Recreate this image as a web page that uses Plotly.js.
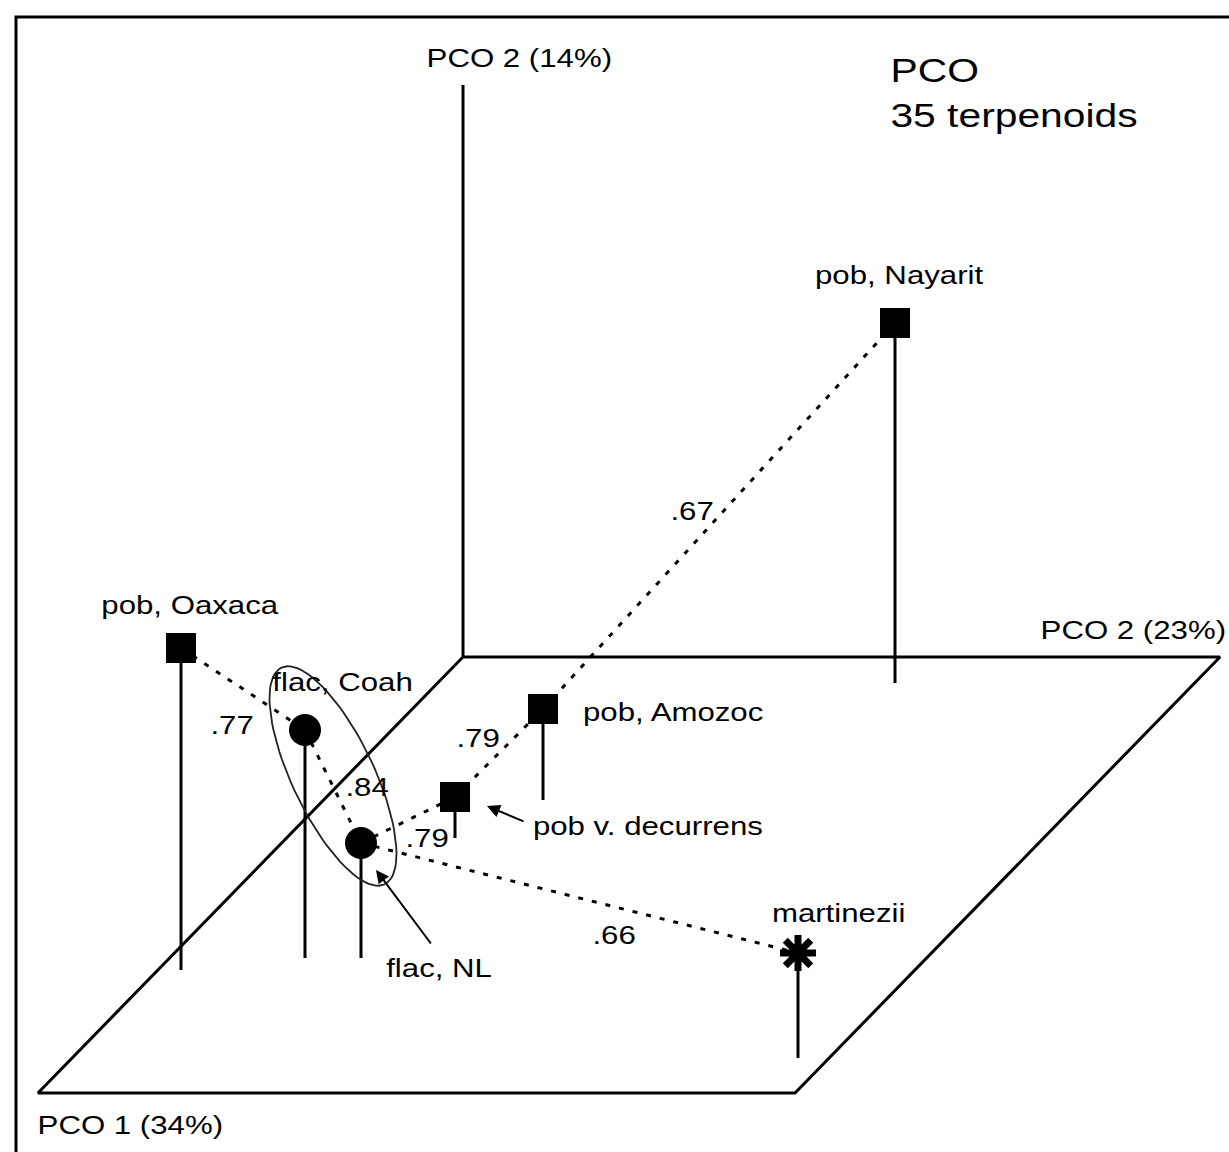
<!DOCTYPE html>
<html><head><meta charset="utf-8">
<script src="https://cdn.plot.ly/plotly-3.0.1.min.js"></script>
<style>
html,body{margin:0;padding:0;background:#fff}#chart{width:1229px;height:1152px}
#chart text.annotation-text{transform-box:fill-box;transform-origin:center;transform:scaleX(1.2)}
</style>
</head><body><div id="chart"></div>
<script>
// Samples (projected positions on the diagram)
const names   = ["pob, Nayarit","pob, Oaxaca","flac, Coah","flac, NL","pob, Amozoc","pob v. decurrens","martinezii"];
const ptX     = [895, 181, 305, 361, 543, 455, 798];
const ptY     = [323, 648, 730, 843, 709, 797, 953];
const stemEnd = [683, 970, 958, 958, 800, 838, 1058];
const symbols = ["square","square","circle","circle","square","square","asterisk-open"];
// Sample label positions (centres)
const labX    = [899, 190, 342, 439, 673, 648, 838];
const labY    = [275, 605, 682, 968, 712, 826, 913];
// Similarity links
const linkFrom  = [1, 2, 3, 5, 4, 3];
const linkTo    = [2, 3, 5, 4, 0, 6];
const linkLabel = [".77", ".84", ".79", ".79", ".67", ".66"];
const linkLabX  = [232, 367, 427, 478, 692, 614];
const linkLabY  = [725, 787, 838, 738, 511, 935];
// Axis titles
const axisTitles = ["PCO 2 (14%)", "PCO 2 (23%)", "PCO 1 (34%)"];
const axisTitX   = [519, 1133, 130];
const axisTitY   = [58, 630, 1125];

const FONT = "Liberation Sans, Arial, sans-serif";
const traces = [];
// floor parallelogram + vertical axis
traces.push({x:[463,1220,795,38,463,463], y:[657,657,1093,1093,657,85], mode:"lines",
  line:{color:"#000",width:3}, hoverinfo:"skip", showlegend:false});
// stems
names.forEach((n,i)=>traces.push({x:[ptX[i],ptX[i]], y:[ptY[i],stemEnd[i]], mode:"lines",
  line:{color:"#000",width:3}, hoverinfo:"skip", showlegend:false}));
// links
linkFrom.forEach((f,k)=>traces.push({x:[ptX[f],ptX[linkTo[k]]], y:[ptY[f],ptY[linkTo[k]]], mode:"lines",
  line:{color:"#000",width:3,dash:"5px,9px"}, hoverinfo:"skip", showlegend:false}));
// ellipse around flac
const ex=[],ey=[]; const cx=333,cy=776,a=120,b=41,th=Math.atan2(210,100);
for(let t=0;t<=360;t+=4){const r=t*Math.PI/180;ex.push(cx+a*Math.cos(r)*Math.cos(th)-b*Math.sin(r)*Math.sin(th));ey.push(cy+a*Math.cos(r)*Math.sin(th)+b*Math.sin(r)*Math.cos(th));}
traces.push({x:ex,y:ey,mode:"lines",line:{color:"#222",width:1.8},hoverinfo:"skip",showlegend:false});
// markers
traces.push({x:ptX, y:ptY, mode:"markers", text:names,
  marker:{symbol:symbols, opacity:1, size:symbols.map(s=>s==="asterisk-open"?30:s==="circle"?32:30), color:"#000",
  line:{color:"#000",width:symbols.map(s=>s==="asterisk-open"?7:0)}}, showlegend:false, hoverinfo:"text"});

const ann = [];
const t = (x,y,text,size)=>ann.push({x,y,text,xref:"x",yref:"y",showarrow:false,xanchor:"center",yanchor:"middle",font:{family:FONT,size:size||26,color:"#000"}});
axisTitles.forEach((s,i)=>t(axisTitX[i],axisTitY[i],s));
t(935,70,"PCO",34);
t(1014,115,"35 terpenoids",34);
names.forEach((n,i)=>t(labX[i],labY[i],n));
linkLabel.forEach((l,k)=>t(linkLabX[k],linkLabY[k],l));
// arrows
ann.push({x:487,y:806,ax:525,ay:822,axref:"x",ayref:"y",xref:"x",yref:"y",showarrow:true,arrowhead:2,arrowsize:1.3,arrowwidth:2,arrowcolor:"#000",text:""});
ann.push({x:376,y:870,ax:432,ay:945,axref:"x",ayref:"y",xref:"x",yref:"y",showarrow:true,arrowhead:2,arrowsize:1.3,arrowwidth:2,arrowcolor:"#000",text:""});

const layout = {width:1229,height:1152,margin:{l:0,r:0,t:0,b:0},paper_bgcolor:"#fff",plot_bgcolor:"#fff",
  xaxis:{range:[0,1229],visible:false,fixedrange:true},
  yaxis:{range:[1152,0],visible:false,fixedrange:true},
  annotations:ann,
  shapes:[{type:"path",path:"M 16 1152 L 16 17 L 1229 17",xref:"x",yref:"y",line:{color:"#000",width:3}}]};
Plotly.newPlot("chart",traces,layout,{displayModeBar:false,staticPlot:true});
</script></body></html>
